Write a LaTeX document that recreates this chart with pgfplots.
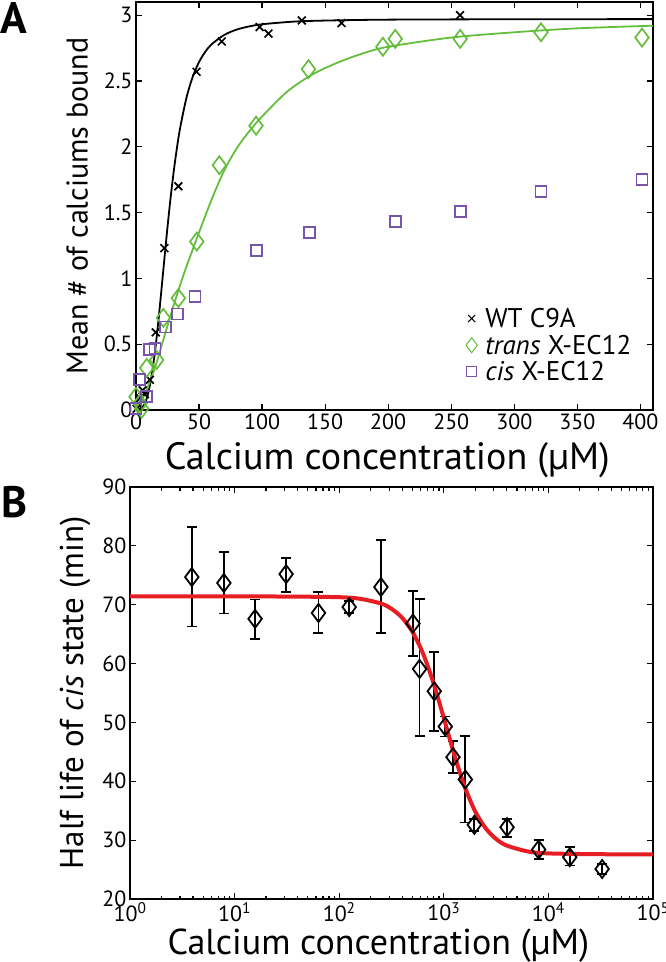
\documentclass[border=0pt]{standalone}
\usepackage{pgfplots}
\pgfplotsset{compat=1.18}
\usepackage{fontspec}
\setmainfont{PT Sans}
\definecolor{mygreen}{RGB}{100,190,60}
\definecolor{mypurple}{RGB}{120,85,170}
\definecolor{myred}{RGB}{230,30,35}
\begin{document}
\begin{tikzpicture}
\path[use as bounding box] (0,0) rectangle (666pt,-962pt);
\pgfplotsset{every axis/.append style={
  scale only axis,
  axis line style={line width=1.6pt},
  every tick/.style={line width=1.2pt, black},
  tick align=inside,
  major tick length=6pt, minor tick length=3.5pt,
  /pgf/number format/assume math mode=true,
  tick label style={font=\fontsize{22}{26}\selectfont},
}}
\node[anchor=base west, font=\bfseries\fontsize{44}{48}\selectfont, inner sep=0pt] at (0pt,-33pt) {A};
\node[anchor=base west, font=\bfseries\fontsize{44}{48}\selectfont, inner sep=0pt] at (1pt,-517pt) {B};

\begin{axis}[at={(136pt,-410pt)}, anchor=south west, width=517pt, height=408pt,
  xmin=0, xmax=410, ymin=0, ymax=3.1,
  xtick={0,50,...,400}, xticklabels={0,50,100,150,200,250,300,350,400},
  ytick={0,0.5,1,1.5,2,2.5,3}, yticklabels={0,0.5,1,1.5,2,2.5,3},
  xlabel={Calcium concentration (µM)}, ylabel={Mean \# of calciums bound},
  xlabel style={font=\fontsize{38}{42}\selectfont, at={(axis description cs:0.486,-0.1225)}, anchor=center},
  ylabel style={font=\fontsize{30}{34}\selectfont, at={(axis description cs:-0.114,0.5)}, anchor=center},
  legend style={draw=none, fill=none, at={(0.638,0.255)}, anchor=north west,
    font=\fontsize{27}{30}\selectfont, row sep=2pt, column sep=6pt, inner sep=0pt},
  legend cell align=left,
]
\addplot[black, line width=1.8pt, smooth, forget plot] coordinates {
(0,0) (5,0.02) (7.5,0.06) (10,0.14) (12.5,0.27) (15,0.44) (17.5,0.653) (20,0.896) (22.5,1.147) (25,1.392) (27.5,1.618) (30,1.819) (32.5,1.994) (35,2.143) (40,2.372) (45,2.532) (50,2.644) (55,2.723) (60,2.779) (70,2.850) (80,2.891) (90,2.915) (100,2.931) (125,2.951) (150,2.959) (200,2.966) (300,2.969) (410,2.97)};
\addplot[mygreen, line width=1.8pt, smooth, forget plot] coordinates {
(0,0) (5,0.08) (10,0.19) (15,0.32) (20,0.48) (25,0.64) (30,0.8) (35,0.95) (40,1.09) (45,1.22) (50,1.35) (60,1.6) (70,1.82) (80,1.99) (90,2.12) (100,2.23) (120,2.42) (140,2.55) (160,2.64) (180,2.71) (200,2.76) (250,2.83) (300,2.87) (350,2.9) (410,2.92)};
\addplot[only marks, black, mark=x, mark size=5.5pt, line width=1.7pt, forget plot] coordinates {
(0.5,0.01) (2,0.04) (3.2,0.09) (5.3,0.15) (7,0.12) (11,0.23) (15.6,0.59) (22.5,1.23) (33.6,1.70) (48,2.57) (68,2.80) (98,2.91) (105,2.86) (131.5,2.96) (163,2.94) (257,3.00)};
\addplot[only marks, mygreen, mark=diamond, mark size=9pt, line width=1.7pt, forget plot] coordinates {
(0,0.1) (3.2,0.05) (4.5,0.01) (8.5,0.32) (16.4,0.38) (21.7,0.70) (33.6,0.85) (48.2,1.28) (66.1,1.86) (95.2,2.16) (136.8,2.59) (195.8,2.76) (205.6,2.82) (257.1,2.82) (321.2,2.87) (401.3,2.83)};
\addplot[only marks, mypurple, mark=square, mark size=5.5pt, line width=1.7pt, forget plot] coordinates {
(0,0.01) (2.6,0.23) (8.5,0.10) (10.6,0.46) (15.1,0.47) (23.6,0.63) (33.1,0.73) (46.8,0.86) (95.8,1.21) (137.6,1.35) (205.6,1.43) (257.1,1.51) (321.2,1.66) (401.3,1.75)};
\addlegendimage{only marks, black, mark=x, mark size=5pt, line width=1pt}
\addlegendentry{WT C9A}
\addlegendimage{only marks, mygreen, mark=diamond, mark size=7.5pt, line width=1pt}
\addlegendentry{\textit{trans} X-EC12}
\addlegendimage{only marks, mypurple, mark=square, mark size=5pt, line width=1pt}
\addlegendentry{\textit{cis} X-EC12}
\end{axis}

\begin{axis}[at={(130pt,-899pt)}, anchor=south west, width=523pt, height=412pt,
  xmode=log, xmin=1, xmax=100000, ymin=20, ymax=90,
  xtick={1,10,100,1000,10000,100000},
  xticklabels={10\textsuperscript{0},10\textsuperscript{1},10\textsuperscript{2},10\textsuperscript{3},10\textsuperscript{4},10\textsuperscript{5}},
  minor xtick={2,3,4,5,6,7,8,9,20,30,40,50,60,70,80,90,200,300,400,500,600,700,800,900,2000,3000,4000,5000,6000,7000,8000,9000,20000,30000,40000,50000,60000,70000,80000,90000},
  ytick={20,30,...,90}, yticklabels={20,30,40,50,60,70,80,90},
  xlabel={Calcium concentration (µM)}, ylabel={Half life of \textit{cis} state (min)},
  xlabel style={font=\fontsize{36}{40}\selectfont, at={(axis description cs:0.475,-0.112)}, anchor=center},
  ylabel style={font=\fontsize{33}{37}\selectfont, at={(axis description cs:-0.105,0.5)}, anchor=center},
]
\addplot[only marks, black, mark=diamond, mark size=9pt, line width=1.8pt,
  error bars/.cd, y dir=both, y explicit,
  error bar style={line width=1.8pt},
  error mark options={rotate=90, mark size=5pt, line width=1.8pt}]
  table[x=x, y=y, y error plus=ep, y error minus=em] {
x y ep em
3.9 74.7 8.5 8.4
7.9 73.7 5.2 5.2
15.7 67.6 3.3 3.4
31.1 75.2 2.8 3.1
63.4 68.6 3.5 3.4
124.6 69.6 1.0 1.0
250.6 73.0 8.0 7.8
507 66.8 5.6 5.5
587 59.1 11.9 11.4
811 55.3 6.7 6.7
1033 49.3 1.7 1.7
1225 44.1 2.7 2.7
1607 40.3 7.4 7.3
1959 32.6 1.0 1.0
4027 32.2 1.4 1.6
8070 28.4 1.6 1.6
16000 27.1 1.8 1.4
32660 25.1 0.8 0.8
};
\addplot[myred, line width=4pt, smooth] coordinates {
(1,71.4) (10,71.4) (31.6,71.39) (100,71.28) (158.5,71.01) (251.2,70.2) (316.2,69.31) (398.1,67.82) (501.2,65.41) (631,61.77) (794.3,56.78) (1000,50.76) (1258.9,44.54) (1584.9,39.07) (1995.3,34.89) (2511.9,32.02) (3162.3,30.2) (3981,29.1) (6309.6,28.09) (10000,27.75) (31623,27.61) (100000,27.6)};
\end{axis}
\end{tikzpicture}
\end{document}
